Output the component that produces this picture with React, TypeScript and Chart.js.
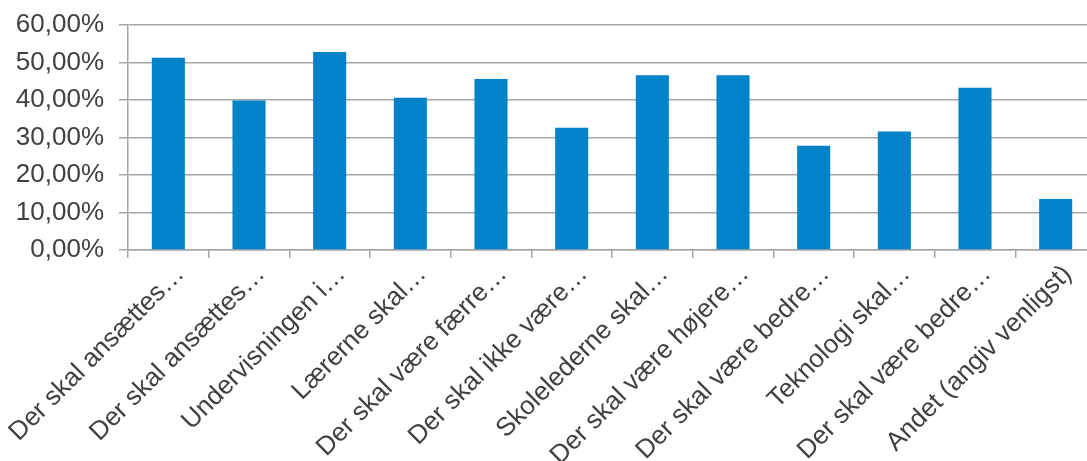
import React, { useEffect, useRef } from "react";
import { Chart, registerables } from "chart.js";

Chart.register(...registerables);

const categories = [
  "Der skal ansættes…",
  "Der skal ansættes…",
  "Undervisningen i…",
  "Lærerne skal…",
  "Der skal være færre…",
  "Der skal ikke være…",
  "Skolelederne skal…",
  "Der skal være højere…",
  "Der skal være bedre…",
  "Teknologi skal…",
  "Der skal være bedre…",
  "Andet (angiv venligst)",
];

const values = [51.3, 39.9, 52.8, 40.6, 45.6, 32.6, 46.6, 46.6, 27.8, 31.6, 43.3, 13.6];

const yTicks = [0, 10, 20, 30, 40, 50, 60];

export default function App() {
  const canvasRef = useRef<HTMLCanvasElement | null>(null);

  useEffect(() => {
    if (!canvasRef.current) return;
    const font = { family: "'Liberation Sans', Arial, sans-serif", size: 26 };
    const chart = new Chart(canvasRef.current, {
      type: "bar",
      data: {
        labels: categories,
        datasets: [
          {
            data: values,
            backgroundColor: "#0083C8",
            borderWidth: 0,
            barPercentage: 0.41,
            categoryPercentage: 1,
          },
        ],
      },
      options: {
        animation: false,
        responsive: true,
        maintainAspectRatio: false,
        layout: { padding: { top: 25, right: 1, left: 0, bottom: 0 } },
        plugins: { legend: { display: false }, tooltip: { enabled: false } },
        scales: {
          x: {
            grid: {
              offset: true,
              drawOnChartArea: false,
              drawTicks: true,
              tickLength: 8,
              color: "#A6A6A6",
              lineWidth: 1.5,
            },
            border: { color: "#A6A6A6", width: 1.5 },
            ticks: {
              autoSkip: false,
              maxRotation: 45,
              minRotation: 45,
              color: "#404040",
              font,
              padding: 1,
              labelOffset: 12,
            },
            afterFit: (scale: any) => {
              scale.height = 211;
              scale.paddingLeft = 0;
              scale.paddingRight = 0;
            },
          },
          y: {
            min: 0,
            max: 60,
            afterBuildTicks: (scale: any) => {
              scale.ticks = yTicks.map((v) => ({ value: v }));
            },
            grid: {
              color: "#A6A6A6",
              lineWidth: 1.5,
              drawTicks: true,
              tickLength: 9,
            },
            border: { color: "#A6A6A6", width: 1.5 },
            ticks: {
              color: "#404040",
              font,
              padding: 15,
              callback: (v: any) => Number(v).toFixed(2).replace(".", ",") + "%",
            },
            afterFit: (scale: any) => {
              scale.width = 128;
              scale.paddingTop = 0;
              scale.paddingBottom = 0;
            },
          },
        },
      },
    });
    return () => chart.destroy();
  }, []);

  return (
    <div style={{ position: "fixed", left: 0, top: 0, width: 1087, height: 461, overflow: "hidden", background: "#fff" }}>
      <div style={{ position: "relative", width: 1097, height: 461 }}>
        <canvas ref={canvasRef} />
      </div>
    </div>
  );
}
